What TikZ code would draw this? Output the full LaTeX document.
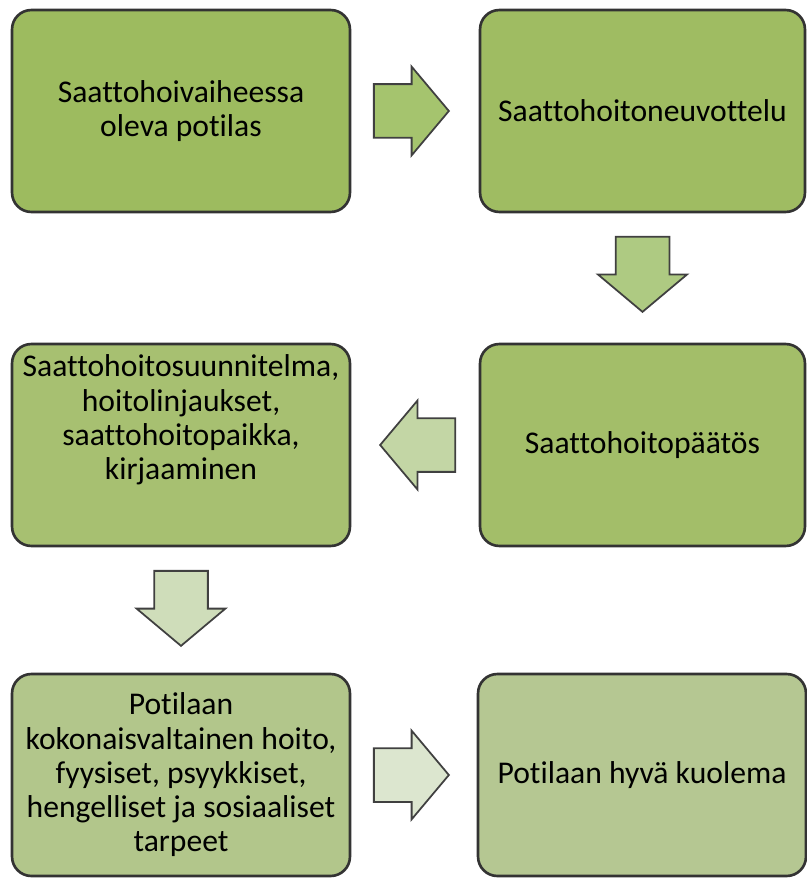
\documentclass[tikz,border=0pt]{standalone}
\usepackage{fontspec}
\setmainfont{Carlito}[Ligatures=NoCommon]
\usetikzlibrary{shapes.arrows}
\usetikzlibrary{calc}
\definecolor{stageA}{HTML}{9DBB5F}
\definecolor{stageB}{HTML}{9FBC62}
\definecolor{stageC}{HTML}{A3BE69}
\definecolor{stageD}{HTML}{A7C071}
\definecolor{stageE}{HTML}{B2C68B}
\definecolor{stageF}{HTML}{B5C792}
\definecolor{flowA}{HTML}{A5C46E}
\definecolor{flowB}{HTML}{AECA82}
\definecolor{flowC}{HTML}{C3D6A5}
\definecolor{flowD}{HTML}{CFDDBA}
\definecolor{flowE}{HTML}{DCE6CF}
\tikzset{stage/.style = {draw=black!80, line width=1.5pt, rounded corners=11pt, minimum height=4.04cm, align=center, font=\fontsize{18}{19.5}\selectfont}}
\tikzset{flow/.style = {single arrow, anchor=tip, draw=black!75, line width=1pt, inner xsep=0, inner ysep=0.52cm, minimum height=1.5cm, single arrow head extend=0.35cm, single arrow tip angle=100}}

\begin{document}
\begin{tikzpicture}[x=0.02cm,y=-0.02cm]
        \useasboundingbox (0,0) rectangle (807,878);
        \node[stage, fill=stageA, minimum width=6.76cm] (start) at (181,111) {Saattohoivaiheessa\\oleva potilas};
        \node[stage, fill=stageB, minimum width=6.5cm] (talk) at (642.5,111) {Saattohoitoneuvottelu};
        \node[stage, fill=stageC, minimum width=6.5cm] (decision) at (642.5,445) {Saattohoitopäätös};
        \node[stage, fill=stageD, minimum width=6.76cm] (plan) at (181,445) {};
        \node[align=center, font=\fontsize{18}{19.5}\selectfont] (plantext) at ([yshift=0.5cm]plan.center) {Saattohoitosuunnitelma,\\hoitolinjaukset,\\saattohoitopaikka,\\kirjaaminen};
        \node[stage, fill=stageE, minimum width=6.76cm] (care) at (181,775) {Potilaan\\kokonaisvaltainen hoito,\\fyysiset, psyykkiset,\\hengelliset ja sosiaaliset\\tarpeet};
        \node[stage, fill=stageF, minimum width=6.56cm] (death) at (642,775) {Potilaan hyvä kuolema};
        % block arrows, placed by their tips
        \node[flow, fill=flowA] (arrA) at ($(start.east)!0.5!(talk.west)+(35,0)$) {};
        \node[flow, fill=flowB, rotate=-90] (arrB) at ($(talk.south)!0.5!(decision.north)+(0,35)$) {};
        \node[flow, fill=flowC, rotate=180] (arrC) at ($(decision.west)!0.5!(plan.east)+(-36,0)$) {};
        \node[flow, fill=flowD, rotate=-90] (arrD) at ($(plan.south)!0.5!(care.north)+(0,37)$) {};
        \node[flow, fill=flowE] (arrE) at ($(care.east)!0.5!(death.west)+(36,0)$) {};
    \end{tikzpicture}
\end{document}
